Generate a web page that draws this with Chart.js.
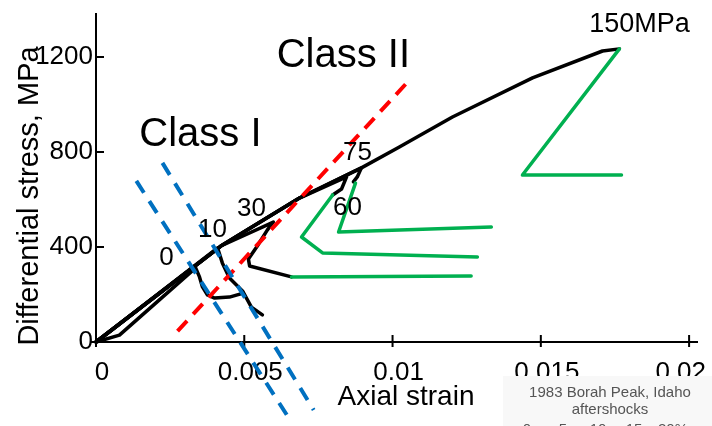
<!DOCTYPE html>
<html>
<head>
<meta charset="utf-8">
<script src="https://cdn.jsdelivr.net/npm/chart.js@4"></script>
<style>
  html, body { margin: 0; padding: 0; background: #fff; }
  #wrap { width: 712px; height: 426px; }
</style>
</head>
<body>
<div id="wrap"><canvas id="myChart" width="712" height="426"></canvas></div>
<script>
// axis ticks
const xTicks = [0, 0.005, 0.01, 0.015, 0.02];
const xTickLabels = ['0', '0.005', '0.01', '0.015', '0.02'];
const yTicks = [0, 400, 800, 1200];

// black stress-strain curves, one per confining pressure (strain, MPa)
const strain0 = [0, 0.00079, 0.00336, 0.00349, 0.00359, 0.00376, 0.00400, 0.00450, 0.00497];
const stress0 = [0, 29, 312, 274, 232, 198, 185, 189, 206];
const strain10 = [0, 0.00410, 0.00426, 0.00450, 0.00494, 0.00524, 0.00561];
const stress10 = [0, 396, 333, 269, 215, 147, 114];
const strain30 = [0, 0.00421, 0.00598, 0.00578, 0.00544, 0.00514, 0.00518, 0.00659];
const stress30 = [0, 404, 505, 472, 404, 349, 320, 274];
const strain60 = [0, 0.00421, 0.00686, 0.00845, 0.00828, 0.00798];
const stress60 = [0, 404, 606, 695, 644, 619];
const strain75 = [0, 0.00421, 0.00686, 0.00895, 0.00881, 0.00868];
const stress75 = [0, 404, 606, 733, 695, 674];
const strain150 = [0, 0.00421, 0.00686, 0.00895, 0.01023, 0.01202, 0.01472, 0.01708, 0.01765];
const stress150 = [0, 404, 606, 733, 821, 947, 1112, 1225, 1234];

// green post-peak paths
const gStrain30 = [0.00659, 0.01265];
const gStress30 = [274, 278];
const gStrain60 = [0.00798, 0.00693, 0.00764, 0.01286];
const gStress60 = [619, 442, 375, 358];
const gStrain75 = [0.00875, 0.00818, 0.01333];
const gStress75 = [669, 463, 484];
const gStrain150 = [0.01765, 0.01438, 0.01772];
const gStress150 = [1234, 703, 703];

// dashed guide lines
const redStrain = [0.00275, 0.01057];
const redStress = [46, 1103];
const blueAStrain = [0.00136, 0.00659];
const blueAStress = [678, -337];
const blueBStrain = [0.00224, 0.00734];
const blueBStress = [754, -286];

// text labels placed in data units
const noteText = ['0', '10', '30', '60', '75', '150MPa', 'Class I', 'Class II'];
const noteStrain = [0.00238, 0.00393, 0.00524, 0.00848, 0.00882, 0.01833, 0.00352, 0.00834];
const noteStress = [354, 472, 560, 564, 796, 1335, 872, 1204];
const noteSize = [26, 26, 26, 26, 26, 27, 40, 40];

const fontFamily = '"Liberation Sans", Arial, sans-serif';

function pts(xs, ys) {
    return xs.map((x, i) => ({ x: x, y: ys[i] }));
}

function curve(xs, ys, color, width, order) {
    return {
        data: pts(xs, ys),
        showLine: true,
        borderColor: color,
        borderWidth: width,
        pointRadius: 0,
        borderJoinStyle: 'round',
        borderCapStyle: 'round',
        tension: 0,
        clip: false,
        order: order
    };
}

function dashed(xs, ys, color, dash) {
    const d = curve(xs, ys, color, 4, 0);
    d.borderDash = dash;
    d.borderCapStyle = 'butt';
    return d;
}

const datasets = [
    dashed(blueAStrain, blueAStress, '#0070c0', [14, 10]),
    dashed(blueBStrain, blueBStress, '#0070c0', [14, 10]),
    dashed(redStrain, redStress, '#ff0000', [14, 9]),
    curve(gStrain30, gStress30, '#00b050', 3.5, 1),
    curve(gStrain60, gStress60, '#00b050', 3.5, 1),
    curve(gStrain75, gStress75, '#00b050', 3.5, 1),
    curve(gStrain150, gStress150, '#00b050', 3.5, 1),
    curve(strain0, stress0, '#000', 3.5, 2),
    curve(strain10, stress10, '#000', 3.5, 2),
    curve(strain30, stress30, '#000', 3.5, 2),
    curve(strain60, stress60, '#000', 3.5, 2),
    curve(strain75, stress75, '#000', 3.5, 2),
    curve(strain150, stress150, '#000', 3.5, 2)
];

// axes, tick marks, titles and text notes
const decor = {
    id: 'decor',
    beforeDatasetsDraw(chart) {
        const ctx = chart.ctx;
        const xs = chart.scales.x, ys = chart.scales.y;
        const x0 = xs.getPixelForValue(0), y0 = ys.getPixelForValue(0);
        ctx.save();
        ctx.strokeStyle = '#000';
        ctx.lineWidth = 2;
        ctx.beginPath();
        ctx.moveTo(x0, chart.chartArea.top);
        ctx.lineTo(x0, y0);
        ctx.moveTo(x0 - 6, y0);
        ctx.lineTo(chart.chartArea.right, y0);
        yTicks.forEach(v => {
            if (v === 0) return;
            const p = ys.getPixelForValue(v);
            ctx.moveTo(x0 - 1, p);
            ctx.lineTo(x0 + 8, p);
        });
        xTicks.forEach(v => {
            const p = xs.getPixelForValue(v);
            ctx.moveTo(p, y0 - 7);
            ctx.lineTo(p, y0 + 5);
        });
        ctx.stroke();

        ctx.fillStyle = '#000';
        ctx.font = '26px ' + fontFamily;
        ctx.textAlign = 'center';
        ctx.textBaseline = 'alphabetic';
        xTicks.forEach((v, i) => {
            const w = ctx.measureText(xTickLabels[i]).width;
            let p = xs.getPixelForValue(v) + 6;
            if (p + w / 2 > chart.width - 6) p = chart.width - 6 - w / 2;
            ctx.fillText(xTickLabels[i], p, y0 + 38);
        });

        ctx.font = '28px ' + fontFamily;
        ctx.fillText('Axial strain', 406, 405);

        ctx.save();
        ctx.translate(38, 196);
        ctx.rotate(-Math.PI / 2);
        ctx.font = '29px ' + fontFamily;
        ctx.fillText('Differential stress, MPa', 0, 0);
        ctx.restore();
        ctx.restore();
    },
    afterDatasetsDraw(chart) {
        const ctx = chart.ctx;
        const xs = chart.scales.x, ys = chart.scales.y;
        ctx.save();
        ctx.fillStyle = '#000';
        ctx.textAlign = 'center';
        ctx.textBaseline = 'middle';
        noteText.forEach((t, i) => {
            ctx.font = noteSize[i] + 'px ' + fontFamily;
            ctx.fillText(t, xs.getPixelForValue(noteStrain[i]), ys.getPixelForValue(noteStress[i]));
        });

        // inset caption cut from the slide
        ctx.fillStyle = '#f8f8f8';
        ctx.fillRect(503, 376, 209, 50);
        ctx.fillStyle = '#555';
        ctx.font = '15px ' + fontFamily;
        ctx.textBaseline = 'alphabetic';
        ctx.fillText('1983 Borah Peak, Idaho', 610, 397);
        ctx.fillText('aftershocks', 610, 414);
        ['0', '5', '10', '15', '20%'].forEach((t, i) => {
            ctx.fillText(t, [527, 563, 598, 634, 673][i], 434);
        });
        ctx.restore();
    }
};

const configuration = {
    type: 'scatter',
    data: { datasets: datasets },
    options: {
        responsive: false,
        animation: false,
        devicePixelRatio: 1,
        layout: { padding: { left: 0, top: 13, right: 14, bottom: 0 } },
        plugins: { legend: { display: false }, tooltip: { enabled: false } },
        scales: {
            x: {
                type: 'linear',
                min: 0,
                max: 0.0203,
                grid: { display: false, drawTicks: false },
                border: { display: false },
                ticks: { display: false },
                afterBuildTicks: (s) => { s.ticks = xTicks.map(v => ({ value: v })); },
                afterFit: (s) => { s.height = 84; s.paddingLeft = 0; s.paddingRight = 0; }
            },
            y: {
                type: 'linear',
                min: 0,
                max: 1385,
                grid: { display: false, drawTicks: false },
                border: { display: false },
                ticks: {
                    color: '#000',
                    padding: 3,
                    font: { family: fontFamily, size: 26 },
                    callback: (value) => String(value)
                },
                afterBuildTicks: (s) => { s.ticks = yTicks.map(v => ({ value: v })); },
                afterFit: (s) => { s.width = 96; s.paddingTop = 0; s.paddingBottom = 0; }
            }
        }
    },
    plugins: [decor]
};

const myChartInstance = new Chart(document.getElementById('myChart'), configuration);
</script>
</body>
</html>
